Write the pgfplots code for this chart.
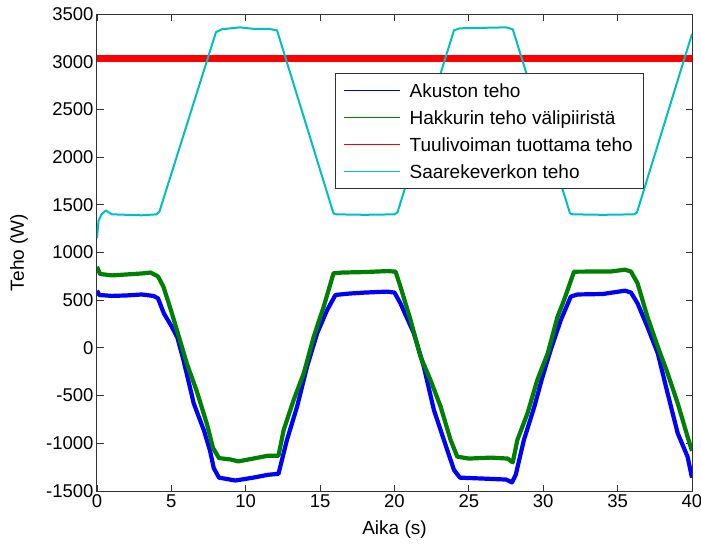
\documentclass[border=0pt]{standalone}
\usepackage{fontspec}
\setmainfont{Liberation Sans}
\usepackage{pgfplots}
\pgfplotsset{compat=1.18}
\definecolor{mblue}{rgb}{0,0,1}
\definecolor{mgreen}{rgb}{0,0.5,0}
\definecolor{mred}{rgb}{1,0,0}
\definecolor{mcyan}{rgb}{0,0.75,0.75}
\begin{document}
\begin{tikzpicture}
\useasboundingbox (-97pt,-56pt) rectangle (604pt,491pt);
\begin{axis}[
  at={(0pt,0pt)}, anchor=south west,
  scale only axis, width=595pt, height=477pt,
  xmin=0, xmax=40, ymin=-1500, ymax=3500,
  xtick={0,5,...,40}, ytick={-1500,-1000,...,3500},
  tick pos=both, tick align=inside, major tick length=6.5pt,
  tick style={black!80, line width=0.9pt},
  axis line style={black!80, line width=1pt},
  /pgf/number format/assume math mode=true,
  /pgf/number format/1000 sep={},
  tick label style={font=\fontsize{18.5}{22}\selectfont},
  xlabel={Aika (s)}, ylabel={Teho (W)},
  every axis x label/.style={at={(axis description cs:0.5,-0.0818)}, anchor=center, font=\fontsize{19}{22}\selectfont},
  every axis y label/.style={at={(axis description cs:-0.131,0.5)}, rotate=90, anchor=center, font=\fontsize{19}{22}\selectfont},
  legend style={at={(0.4,0.8763)}, anchor=north west, draw=black!80, line width=0.8pt, fill=white,
    font=\fontsize{19}{22}\selectfont, inner xsep=8pt, inner ysep=3.5pt, row sep=0pt, column sep=6pt,
    cells={anchor=west}, nodes={inner xsep=3pt, inner ysep=4pt, text height=16.5pt, text depth=2.5pt}},
  legend image code/.code={\draw[#1] (0pt,0pt) -- (56pt,0pt);},
  legend image post style={line width=1.2pt},
  every axis plot/.append style={line join=round},
]
% Akuston teho
\addplot[mblue, line width=4.2pt] coordinates {
(0,600) (0.15,555) (1,545) (2,550) (3,560) (3.8,545) (4.1,520) (4.5,360) (5.0,230) (5.4,110) (5.8,-120) (6.2,-380) (6.5,-580) (7.2,-870) (7.6,-1080) (7.85,-1260) (8.2,-1360) (9.3,-1390) (10.5,-1360) (11.5,-1330) (12.2,-1320) (12.77,-965) (13.45,-616) (14.12,-197) (14.8,153) (15.47,397) (16.03,555) (17,570) (18,580) (19.5,590) (20.0,580) (20.4,467) (21.3,153) (21.97,-197) (22.65,-651) (23.32,-965) (24.0,-1280) (24.4,-1360) (26,-1370) (27.5,-1380) (27.9,-1410) (28.15,-1330) (28.7,-965) (29.4,-616) (29.9,-330) (30.5,-22) (31.18,292) (31.85,537) (32.3,560) (34,565) (35.5,600) (35.9,580) (36.34,467) (37.0,222) (37.7,-57) (38.36,-476) (39.04,-895) (39.7,-1140) (40,-1360)
};
% Hakkurin teho
\addplot[mgreen, line width=4.2pt] coordinates {
(0,850) (0.2,775) (1,760) (2,770) (3,780) (3.6,790) (4.1,750) (4.47,640) (5.0,380) (5.38,183) (6.05,-169) (6.7,-450) (7.4,-803) (7.8,-1049) (8.2,-1155) (9.0,-1170) (9.5,-1190) (10.5,-1160) (11.5,-1130) (12.2,-1130) (12.55,-861) (13.22,-546) (13.9,-266) (14.57,117) (15.24,432) (15.9,782) (16.5,790) (18,795) (19.5,805) (20.07,800) (20.4,642) (21.08,292) (21.75,-92) (22.42,-337) (23.1,-616) (23.77,-965) (24.22,-1140) (25,-1160) (26.5,-1150) (27.6,-1160) (27.95,-1200) (28.26,-965) (28.94,-686) (29.6,-337) (30.3,-57) (30.96,327) (31.4,502) (32.07,799) (33,800) (34.5,800) (35.5,820) (35.9,800) (36.34,677) (37,327) (37.7,13) (38.36,-266) (39.04,-581) (39.7,-930) (40,-1080)
};
% Tuulivoiman tuottama teho
\addplot[mred, line width=6.5pt] coordinates {
(0,3035) (10,3035) (20,3035) (30,3035) (40,3035)
};
% Saarekeverkon teho
\addplot[mcyan, line width=2pt] coordinates {
(0,1150) (0.1,1330) (0.3,1400) (0.6,1440) (1.0,1400) (2,1395) (3,1390) (4.0,1400) (4.2,1430) (8.0,3310) (8.4,3340) (9.6,3360) (10.5,3345) (11.5,3345) (12.1,3330) (15.9,1410) (16.1,1400) (18,1395) (20.0,1400) (20.2,1420) (24.0,3330) (24.4,3350) (27.5,3360) (27.95,3340) (31.8,1410) (32,1400) (34,1395) (36.1,1400) (36.3,1420) (40,3290)
};
\legend{Akuston teho, Hakkurin teho välipiiristä, Tuulivoiman tuottama teho, Saarekeverkon teho}
\end{axis}
\end{tikzpicture}
\end{document}
